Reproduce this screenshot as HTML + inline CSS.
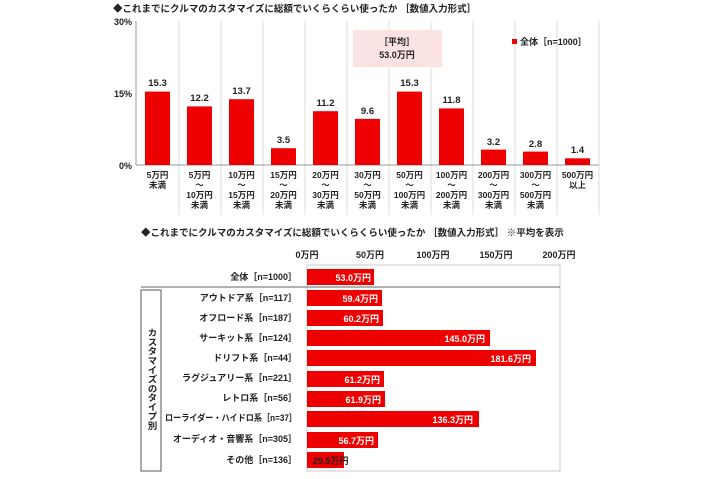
<!DOCTYPE html>
<html><head><meta charset="utf-8"><style>
body{margin:0;background:#fff;}
svg text{font-family:"Liberation Sans","Noto Sans CJK JP",sans-serif;font-weight:bold;fill:#222;}
</style></head><body>
<svg width="710" height="474" viewBox="0 0 710 474" xmlns="http://www.w3.org/2000/svg">
<text x="113" y="12" font-size="9.5">◆これまでにクルマのカスタマイズに総額でいくらくらい使ったか ［数値入力形式］</text>
<text x="132" y="25" font-size="9" text-anchor="end">30%</text>
<text x="132" y="97" font-size="9" text-anchor="end">15%</text>
<text x="132" y="169" font-size="9" text-anchor="end">0%</text>
<line x1="136" y1="21" x2="136" y2="165" stroke="#999" stroke-width="1"/>
<g stroke="#ddd" stroke-width="1">
<line x1="179" y1="21" x2="179" y2="215"/><line x1="221" y1="21" x2="221" y2="215"/><line x1="263" y1="21" x2="263" y2="215"/><line x1="305" y1="21" x2="305" y2="215"/><line x1="347" y1="21" x2="347" y2="215"/><line x1="389" y1="21" x2="389" y2="215"/><line x1="431" y1="21" x2="431" y2="215"/><line x1="473" y1="21" x2="473" y2="215"/><line x1="515" y1="21" x2="515" y2="215"/><line x1="557" y1="21" x2="557" y2="215"/><line x1="599" y1="21" x2="599" y2="215"/>
</g>
<line x1="136" y1="165" x2="599" y2="165" stroke="#999"/>
<rect x="353" y="30" width="89" height="37" fill="#fbe3e3"/>
<text x="397" y="45" font-size="9" text-anchor="middle">［平均］</text>
<text x="397" y="58" font-size="9" text-anchor="middle">53.0万円</text>
<rect x="512" y="39" width="5" height="5" fill="#e00"/>
<text x="520" y="45" font-size="9">全体［n=1000］</text>
<g fill="#ee0000">
<rect x="145" y="91.6" width="25" height="73.4"/>
<rect x="187" y="106.4" width="25" height="58.6"/>
<rect x="229" y="99.2" width="25" height="65.8"/>
<rect x="271" y="148.2" width="25" height="16.8"/>
<rect x="313" y="111.2" width="25" height="53.8"/>
<rect x="355" y="118.9" width="25" height="46.1"/>
<rect x="397" y="91.6" width="25" height="73.4"/>
<rect x="439" y="108.4" width="25" height="56.6"/>
<rect x="481" y="149.6" width="25" height="15.4"/>
<rect x="523" y="151.6" width="25" height="13.4"/>
<rect x="565" y="158.3" width="25" height="6.7"/>
</g>
<g font-size="9.5" text-anchor="middle">
<text x="157.5" y="86">15.3</text><text x="199.5" y="101">12.2</text><text x="241.5" y="94">13.7</text><text x="283.5" y="143">3.5</text><text x="325.5" y="106">11.2</text><text x="367.5" y="114">9.6</text><text x="409.5" y="86">15.3</text><text x="451.5" y="103">11.8</text><text x="493.5" y="145">3.2</text><text x="535.5" y="147">2.8</text><text x="577.5" y="153">1.4</text>
</g>
<g font-size="8.5" text-anchor="middle">
<text x="157.5" y="178">5万円</text><text x="157.5" y="188">未満</text>
<text x="199.5" y="178">5万円</text><text x="199.5" y="188">～</text><text x="199.5" y="198">10万円</text><text x="199.5" y="208">未満</text>
<text x="241.5" y="178">10万円</text><text x="241.5" y="188">～</text><text x="241.5" y="198">15万円</text><text x="241.5" y="208">未満</text>
<text x="283.5" y="178">15万円</text><text x="283.5" y="188">～</text><text x="283.5" y="198">20万円</text><text x="283.5" y="208">未満</text>
<text x="325.5" y="178">20万円</text><text x="325.5" y="188">～</text><text x="325.5" y="198">30万円</text><text x="325.5" y="208">未満</text>
<text x="367.5" y="178">30万円</text><text x="367.5" y="188">～</text><text x="367.5" y="198">50万円</text><text x="367.5" y="208">未満</text>
<text x="409.5" y="178">50万円</text><text x="409.5" y="188">～</text><text x="409.5" y="198">100万円</text><text x="409.5" y="208">未満</text>
<text x="451.5" y="178">100万円</text><text x="451.5" y="188">～</text><text x="451.5" y="198">200万円</text><text x="451.5" y="208">未満</text>
<text x="493.5" y="178">200万円</text><text x="493.5" y="188">～</text><text x="493.5" y="198">300万円</text><text x="493.5" y="208">未満</text>
<text x="535.5" y="178">300万円</text><text x="535.5" y="188">～</text><text x="535.5" y="198">500万円</text><text x="535.5" y="208">未満</text>
<text x="577.5" y="178">500万円</text><text x="577.5" y="188">以上</text>
</g>

<text x="141" y="236" font-size="9.5">◆これまでにクルマのカスタマイズに総額でいくらくらい使ったか ［数値入力形式］ ※平均を表示</text>
<g font-size="9" text-anchor="middle">
<text x="307" y="258">0万円</text><text x="370" y="258">50万円</text><text x="433" y="258">100万円</text><text x="496" y="258">150万円</text><text x="559" y="258">200万円</text>
</g>
<rect x="307" y="265" width="253" height="206" fill="none" stroke="#ccc"/>
<line x1="141" y1="287" x2="560" y2="287" stroke="#666"/>
<rect x="141" y="290" width="20" height="181" fill="none" stroke="#555"/>
<text x="151" y="328" font-size="9.5" style="writing-mode:vertical-rl" textLength="102" lengthAdjust="spacingAndGlyphs">カスタマイズのタイプ別</text>
<g font-size="9" text-anchor="end">
<text x="297" y="280">全体［n=1000］</text>
<text x="297" y="301">アウトドア系［n=117］</text>
<text x="297" y="321">オフロード系［n=187］</text>
<text x="297" y="341">サーキット系［n=124］</text>
<text x="297" y="361">ドリフト系［n=44］</text>
<text x="297" y="381">ラグジュアリー系［n=221］</text>
<text x="297" y="401">レトロ系［n=56］</text>
<text x="297" y="421" textLength="132" lengthAdjust="spacingAndGlyphs">ローライダー・ハイドロ系［n=37］</text>
<text x="297" y="442">オーディオ・音響系［n=305］</text>
<text x="297" y="463">その他［n=136］</text>
</g>
<g fill="#ee0000">
<rect x="307" y="269" width="67" height="16"/>
<rect x="307" y="290" width="75" height="16"/>
<rect x="307" y="310" width="76" height="16"/>
<rect x="307" y="330" width="183" height="16"/>
<rect x="307" y="350" width="229" height="16"/>
<rect x="307" y="371" width="77" height="16"/>
<rect x="307" y="391" width="78" height="16"/>
<rect x="307" y="411" width="172" height="16"/>
<rect x="307" y="432" width="71" height="16"/>
<rect x="307" y="452" width="37" height="16"/>
</g>
<g font-size="9" text-anchor="end">
<text x="371" y="281" style="fill:#fff">53.0万円</text>
<text x="378" y="302" style="fill:#fff">59.4万円</text>
<text x="379" y="322" style="fill:#fff">60.2万円</text>
<text x="485" y="342" style="fill:#fff">145.0万円</text>
<text x="531" y="362" style="fill:#fff">181.6万円</text>
<text x="380" y="383" style="fill:#fff">61.2万円</text>
<text x="381" y="403" style="fill:#fff">61.9万円</text>
<text x="473" y="423" style="fill:#fff">136.3万円</text>
<text x="374" y="444" style="fill:#fff">56.7万円</text>
</g>
<text x="313" y="464" font-size="9">29.5万円</text>
</svg>
</body></html>
